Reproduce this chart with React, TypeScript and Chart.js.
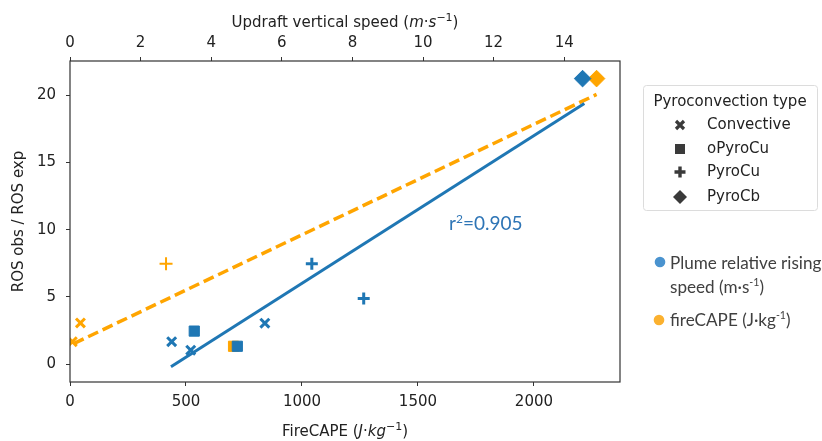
import React, { useEffect, useRef } from 'react';
import { Chart, registerables } from 'chart.js';

Chart.register(...registerables);

// ---------- data ----------
const pyroTypes = ['Convective', 'oPyroCu', 'PyroCu', 'PyroCb'];

// Plume relative rising speed (top axis, m·s-1)
const plumeSpeed = [2.88, 3.42, 3.52, 4.74, 5.52, 6.85, 8.32, 14.52];
const plumeRos = [1.66, 1.03, 2.45, 1.32, 3.04, 7.47, 4.87, 21.25];
const plumeType = ['Convective', 'Convective', 'oPyroCu', 'oPyroCu', 'Convective', 'PyroCu', 'PyroCu', 'PyroCb'];

// fireCAPE (bottom axis, J·kg-1)
const capeValues = [10, 45, 414, 705, 2270];
const capeRos = [1.66, 3.06, 7.47, 1.32, 21.25];
const capeType = ['Convective', 'Convective', 'PyroCu', 'oPyroCu', 'PyroCb'];

// regression lines
const plumeFitSpeed = [2.86, 14.57];
const plumeFitRos = [-0.2, 19.39];
const capeFitValues = [16, 2270];
const capeFitRos = [1.52, 20.07];

const r2Value = '0.905';

// axis ranges / ticks
const capeRange = [0, 2371];
const capeTicks = [0, 500, 1000, 1500, 2000];
const speedRange = [0, 15.58];
const speedTicks = [0, 2, 4, 6, 8, 10, 12, 14];
const rosRange = [-1.34, 22.56];
const rosTicks = [0, 5, 10, 15, 20];

const BLUE = '#1f77b4';
const ORANGE = '#ffa500';
const AXIS = '#333333';
const DJ = '"DejaVu Sans", sans-serif';
const OFFICE = 'Lato, "Open Sans", sans-serif';

const styleOf: Record<string, string> = { Convective: 'crossRot', oPyroCu: 'rect', PyroCu: 'cross', PyroCb: 'rectRot' };
const radiusOf: Record<string, number> = { Convective: 6.3, oPyroCu: 7.2, PyroCu: 6, PyroCb: 8.3 };
const widthOf: Record<string, number> = { Convective: 3, oPyroCu: 1, PyroCu: 3, PyroCb: 1 };

type Seg = { t: string; font: string; dy?: number };

function drawRich(ctx: CanvasRenderingContext2D, segs: Seg[], x: number, y: number, align: 'left' | 'center') {
  let total = 0;
  for (const s of segs) {
    ctx.font = s.font;
    total += ctx.measureText(s.t).width;
  }
  let cx = align === 'center' ? x - total / 2 : x;
  ctx.textAlign = 'left';
  ctx.textBaseline = 'alphabetic';
  for (const s of segs) {
    ctx.font = s.font;
    ctx.fillText(s.t, cx, y + (s.dy || 0));
    cx += ctx.measureText(s.t).width;
  }
}

function drawMarker(ctx: CanvasRenderingContext2D, type: string, x: number, y: number, color: string) {
  ctx.save();
  ctx.fillStyle = color;
  ctx.strokeStyle = color;
  if (type === 'Convective') {
    ctx.lineWidth = 3.2;
    const d = 4;
    ctx.beginPath();
    ctx.moveTo(x - d, y - d); ctx.lineTo(x + d, y + d);
    ctx.moveTo(x - d, y + d); ctx.lineTo(x + d, y - d);
    ctx.stroke();
  } else if (type === 'oPyroCu') {
    ctx.fillRect(x - 5, y - 5, 10, 10);
  } else if (type === 'PyroCu') {
    ctx.lineWidth = 3.4;
    const d = 5.5;
    ctx.beginPath();
    ctx.moveTo(x - d, y); ctx.lineTo(x + d, y);
    ctx.moveTo(x, y - d); ctx.lineTo(x, y + d);
    ctx.stroke();
  } else {
    const d = 7;
    ctx.beginPath();
    ctx.moveTo(x, y - d); ctx.lineTo(x + d, y); ctx.lineTo(x, y + d); ctx.lineTo(x - d, y);
    ctx.closePath();
    ctx.fill();
  }
  ctx.restore();
}

function roundRect(ctx: CanvasRenderingContext2D, x: number, y: number, w: number, h: number, r: number) {
  ctx.beginPath();
  ctx.moveTo(x + r, y);
  ctx.lineTo(x + w - r, y);
  ctx.arcTo(x + w, y, x + w, y + r, r);
  ctx.lineTo(x + w, y + h - r);
  ctx.arcTo(x + w, y + h, x + w - r, y + h, r);
  ctx.lineTo(x + r, y + h);
  ctx.arcTo(x, y + h, x, y + h - r, r);
  ctx.lineTo(x, y + r);
  ctx.arcTo(x, y, x + r, y, r);
  ctx.closePath();
}

const overlayPlugin = {
  id: 'overlay',
  afterDraw(chart: any) {
    const ctx: CanvasRenderingContext2D = chart.ctx;
    const a = chart.chartArea;
    ctx.save();

    // frame
    ctx.strokeStyle = AXIS;
    ctx.lineWidth = 1.2;
    ctx.strokeRect(a.left, a.top, a.right - a.left, a.bottom - a.top);

    const cx = (a.left + a.right) / 2;
    const n = `15px ${DJ}`;
    const it = `italic 15px ${DJ}`;
    const sup = `11px ${DJ}`;
    ctx.fillStyle = '#222222';
    drawRich(ctx, [
      { t: 'Updraft vertical speed (', font: n },
      { t: 'm', font: it },
      { t: '·', font: n },
      { t: 's', font: it },
      { t: '−1', font: sup, dy: -6 },
      { t: ')', font: n },
    ], cx, 27, 'center');
    drawRich(ctx, [
      { t: 'FireCAPE (', font: n },
      { t: 'J', font: it },
      { t: '·', font: n },
      { t: 'kg', font: it },
      { t: '−1', font: sup, dy: -6 },
      { t: ')', font: n },
    ], cx, 436, 'center');

    // r² annotation
    ctx.fillStyle = '#2e75b6';
    drawRich(ctx, [
      { t: 'r', font: `19px ${OFFICE}` },
      { t: '2', font: `12px ${OFFICE}`, dy: -7 },
      { t: '=' + r2Value, font: `19px ${OFFICE}` },
    ], 449, 230, 'left');

    // legend 1 : Pyroconvection type
    roundRect(ctx, 643.5, 85.5, 174, 125, 3);
    ctx.fillStyle = 'rgba(255,255,255,0.85)';
    ctx.fill();
    ctx.strokeStyle = '#dcdcdc';
    ctx.lineWidth = 1;
    ctx.stroke();
    ctx.fillStyle = '#222222';
    ctx.font = `15px ${DJ}`;
    ctx.textAlign = 'center';
    ctx.textBaseline = 'middle';
    ctx.fillText('Pyroconvection type', 730, 102);
    const rows = [125, 149, 172, 197];
    pyroTypes.forEach((t, i) => {
      drawMarker(ctx, t, 680, rows[i], '#3a3a3a');
      ctx.fillStyle = '#222222';
      ctx.font = `15px ${DJ}`;
      ctx.textAlign = 'left';
      ctx.textBaseline = 'middle';
      ctx.fillText(t, 707, rows[i]);
    });

    // legend 2 : variables
    const base = 'Plume relative rising';
    ctx.font = `20px ${OFFICE}`;
    const w20 = ctx.measureText(base).width;
    const fs = Math.max(12, Math.min(22, 20 * 151 / w20));
    const f = `${fs.toFixed(1)}px ${OFFICE}`;
    const fsup = `${(fs * 0.62).toFixed(1)}px ${OFFICE}`;
    ctx.fillStyle = '#4a93cf';
    ctx.beginPath(); ctx.arc(660, 262, 5.3, 0, Math.PI * 2); ctx.fill();
    ctx.fillStyle = '#fbb12f';
    ctx.beginPath(); ctx.arc(659, 320, 5.3, 0, Math.PI * 2); ctx.fill();
    ctx.fillStyle = '#404040';
    drawRich(ctx, [{ t: base, font: f }], 670, 269, 'left');
    drawRich(ctx, [
      { t: 'speed (m·s', font: f },
      { t: '-1', font: fsup, dy: -7 },
      { t: ')', font: f },
    ], 670, 293, 'left');
    drawRich(ctx, [
      { t: 'fireCAPE (J·kg', font: f },
      { t: '-1', font: fsup, dy: -7 },
      { t: ')', font: f },
    ], 670, 326, 'left');

    ctx.restore();
  },
};

export default function App() {
  const ref = useRef<HTMLCanvasElement | null>(null);

  useEffect(() => {
    document.body.style.margin = '0';
    const canvas = ref.current;
    if (!canvas) return;

    const tickFont = { family: DJ, size: 15 };
    const gridCommon = { display: true, drawOnChartArea: false, drawTicks: true, tickLength: 4, color: AXIS, lineWidth: 1 };
    const fmt = (v: any) => String(v);
    const setTicks = (vals: number[]) => (s: any) => { s.ticks = vals.map((v) => ({ value: v })); };

    const chart = new Chart(canvas, {
      type: 'scatter',
      data: {
        datasets: [
          {
            label: 'Plume relative rising speed',
            xAxisID: 'x2',
            yAxisID: 'y',
            data: plumeSpeed.map((v, i) => ({ x: v, y: plumeRos[i] })),
            pointStyle: plumeType.map((t) => styleOf[t]) as any,
            pointRadius: plumeType.map((t) => radiusOf[t]),
            pointBorderWidth: plumeType.map((t) => widthOf[t]),
            backgroundColor: BLUE,
            borderColor: BLUE,
            pointHoverRadius: 0,
          },
          {
            label: 'fireCAPE',
            xAxisID: 'x',
            yAxisID: 'y',
            data: capeValues.map((v, i) => ({ x: v, y: capeRos[i] })),
            pointStyle: capeType.map((t) => styleOf[t]) as any,
            pointRadius: capeType.map((t) => (t === 'PyroCu' ? 6.5 : radiusOf[t])),
            pointBorderWidth: capeType.map((t) => (t === 'PyroCu' ? 2 : widthOf[t])),
            backgroundColor: ORANGE,
            borderColor: ORANGE,
            pointHoverRadius: 0,
          },
          {
            label: 'Plume fit',
            xAxisID: 'x2',
            yAxisID: 'y',
            data: plumeFitSpeed.map((v, i) => ({ x: v, y: plumeFitRos[i] })),
            showLine: true,
            borderColor: BLUE,
            borderWidth: 3,
            pointRadius: 0,
            fill: false,
          },
          {
            label: 'fireCAPE fit',
            xAxisID: 'x',
            yAxisID: 'y',
            data: capeFitValues.map((v, i) => ({ x: v, y: capeFitRos[i] })),
            showLine: true,
            borderColor: ORANGE,
            borderWidth: 3.5,
            borderDash: [11, 5],
            pointRadius: 0,
            fill: false,
          },
        ],
      },
      options: {
        responsive: false,
        animation: false,
        events: [],
        layout: { padding: { left: 0, right: 202, top: 0, bottom: 0 } },
        plugins: { legend: { display: false }, tooltip: { enabled: false } },
        scales: {
          x: {
            type: 'linear',
            position: 'bottom',
            min: capeRange[0],
            max: capeRange[1],
            afterBuildTicks: setTicks(capeTicks),
            afterFit: (s: any) => { s.height = 59; },
            ticks: { font: tickFont, color: '#222', padding: 7, maxRotation: 0, autoSkip: false, callback: fmt },
            grid: gridCommon,
            border: { display: false },
          },
          x2: {
            type: 'linear',
            position: 'top',
            min: speedRange[0],
            max: speedRange[1],
            afterBuildTicks: setTicks(speedTicks),
            afterFit: (s: any) => { s.height = 61; },
            ticks: { font: tickFont, color: '#222', padding: 5, maxRotation: 0, autoSkip: false, callback: fmt },
            grid: gridCommon,
            border: { display: false },
          },
          y: {
            type: 'linear',
            position: 'left',
            min: rosRange[0],
            max: rosRange[1],
            afterBuildTicks: setTicks(rosTicks),
            afterFit: (s: any) => { s.width = 70; },
            ticks: { font: tickFont, color: '#222', padding: 10, autoSkip: false, callback: fmt },
            grid: gridCommon,
            border: { display: false },
            title: { display: true, text: 'ROS obs / ROS exp', font: { family: DJ, size: 15 }, color: '#222', padding: { top: 10, bottom: 0 } },
          },
        },
      } as any,
      plugins: [overlayPlugin],
    });

    return () => chart.destroy();
  }, []);

  return (
    <div style={{ width: 822, height: 441 }}>
      <canvas ref={ref} width={822} height={441} style={{ display: 'block', width: 822, height: 441 }} />
    </div>
  );
}
